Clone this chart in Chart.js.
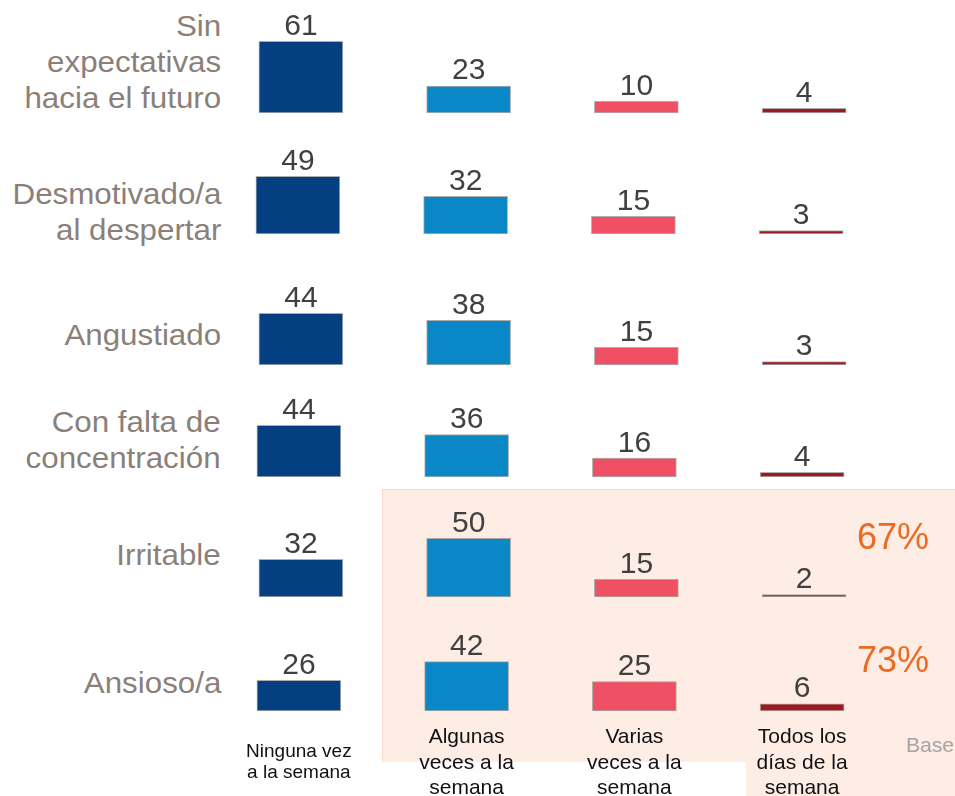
<!DOCTYPE html>
<html>
<head>
<meta charset="utf-8">
<script src="https://cdn.jsdelivr.net/npm/chart.js@4.4.1/dist/chart.umd.min.js"></script>
<style>
  html, body { margin: 0; padding: 0; background: #fff; overflow: hidden; }
  #stage { position: relative; width: 955px; height: 796px; font-family: "Liberation Sans", Arial, sans-serif; }
  .shade { position: absolute; background: #fdede4; }
  .rowLabel {
    position: absolute; right: 734px; text-align: right; white-space: nowrap;
    font-size: 29px; line-height: 36px; color: #8b7f79;
    transform: scaleX(1.08); transform-origin: right center;
  }
  .pct { position: absolute; left: 857px; font-size: 36px; line-height: 36px; color: #ec6a21; }
  .base { position: absolute; left: 906px; top: 734px; font-size: 21px; line-height: 21px; color: #a6a6a6; }
  canvas { position: absolute; }
</style>
</head>
<body>
<div id="stage">
  <div class="shade" style="left:382px; top:489px; width:573px; height:272px; border-top:1px solid #f8d8c4; border-left:1px solid #f8d8c4;"></div>
  <div class="shade" style="left:746px; top:761px; width:209px; height:35px;"></div>
  <div class="base">Base</div>
</div>

<script>
// categories
const rowLabels = [
  ['Sin', 'expectativas', 'hacia el futuro'],
  ['Desmotivado/a', 'al despertar'],
  ['Angustiado'],
  ['Con falta de', 'concentración'],
  ['Irritable'],
  ['Ansioso/a']
];
const columnLabels = [
  ['Ninguna vez', 'a la semana'],
  ['Algunas', 'veces a la', 'semana'],
  ['Varias', 'veces a la', 'semana'],
  ['Todos los', 'días de la', 'semana']
];

// values per column (one entry per row)
const ninguna = [61, 49, 44, 44, 32, 26];
const algunas = [23, 32, 38, 36, 50, 42];
const varias  = [10, 15, 15, 16, 15, 25];
const todos   = [4, 3, 3, 4, 2, 6];

// rows with the highlighted total (at least once a week)
const highlighted = [4, 5];

const colors = ['#033f81', '#0a87c6', '#ef5064', '#9e1a20'];

// layout
const rowBaseline = [113, 234, 365, 477, 597, 711];
const rowShift = [0, -3, 0, -2, 0, -2];
const labelTop = [8, 176, 317, 404, 537, 665];
const pctTop = { 4: 519, 5: 642 };
const PX_PER_UNIT = 1.175;
const AREA_H = 118;
const FONT = '"Liberation Sans", Arial, sans-serif';

const stage = document.getElementById('stage');

const valueLabels = {
  id: 'valueLabels',
  afterDatasetsDraw(chart) {
    const ctx = chart.ctx;
    const ds = chart.data.datasets[0];
    ctx.save();
    ctx.font = '30px ' + FONT;
    ctx.fillStyle = '#404040';
    ctx.textAlign = 'center';
    ctx.textBaseline = 'alphabetic';
    chart.getDatasetMeta(0).data.forEach((bar, i) => {
      ctx.fillText(ds.data[i], bar.x, bar.y - 6.5);
    });
    ctx.restore();
  }
};

const columnTitles = {
  id: 'columnTitles',
  afterDraw(chart) {
    const ctx = chart.ctx;
    const xs = chart.scales.x;
    const bottom = chart.chartArea.bottom;
    ctx.save();
    ctx.fillStyle = '#111';
    ctx.textAlign = 'center';
    ctx.textBaseline = 'alphabetic';
    columnLabels.forEach((lines, i) => {
      const first = i === 0;
      ctx.font = (first ? '19px ' : '21px ') + FONT;
      const lh = first ? 20.5 : 25.5;
      const y0 = bottom + (first ? 46 : 32);
      lines.forEach((t, k) => ctx.fillText(t, xs.getPixelForValue(i), y0 + k * lh));
    });
    ctx.restore();
  }
};

rowLabels.forEach((lines, r) => {
  const lab = document.createElement('div');
  lab.className = 'rowLabel';
  lab.style.top = labelTop[r] + 'px';
  lab.innerHTML = lines.join('<br>');
  stage.appendChild(lab);

  const last = r === rowLabels.length - 1;
  const padBottom = last ? 796 - rowBaseline[r] : 2;
  const canvas = document.createElement('canvas');
  canvas.width = 955;
  canvas.height = AREA_H + padBottom;
  canvas.style.left = rowShift[r] + 'px';
  canvas.style.top = (rowBaseline[r] - AREA_H) + 'px';
  stage.appendChild(canvas);

  new Chart(canvas, {
    type: 'bar',
    data: {
      labels: columnLabels.map(l => l.join(' ')),
      datasets: [{
        data: [ninguna[r], algunas[r], varias[r], todos[r]],
        backgroundColor: colors,
        borderColor: 'rgba(110,110,110,0.55)',
        borderWidth: 1,
        borderSkipped: false,
        barThickness: 84
      }]
    },
    options: {
      responsive: false,
      animation: false,
      devicePixelRatio: 1,
      layout: { padding: { left: 217, right: 67, top: 0, bottom: padBottom } },
      scales: {
        x: { display: false, offset: true },
        y: { display: false, min: 0, max: AREA_H / PX_PER_UNIT }
      },
      plugins: { legend: { display: false }, tooltip: { enabled: false } }
    },
    plugins: last ? [valueLabels, columnTitles] : [valueLabels]
  });
});

// share of people feeling it at least once a week
highlighted.forEach(r => {
  const d = document.createElement('div');
  d.className = 'pct';
  d.style.top = pctTop[r] + 'px';
  d.textContent = (algunas[r] + varias[r] + todos[r]) + '%';
  stage.appendChild(d);
});
</script>
</body>
</html>
